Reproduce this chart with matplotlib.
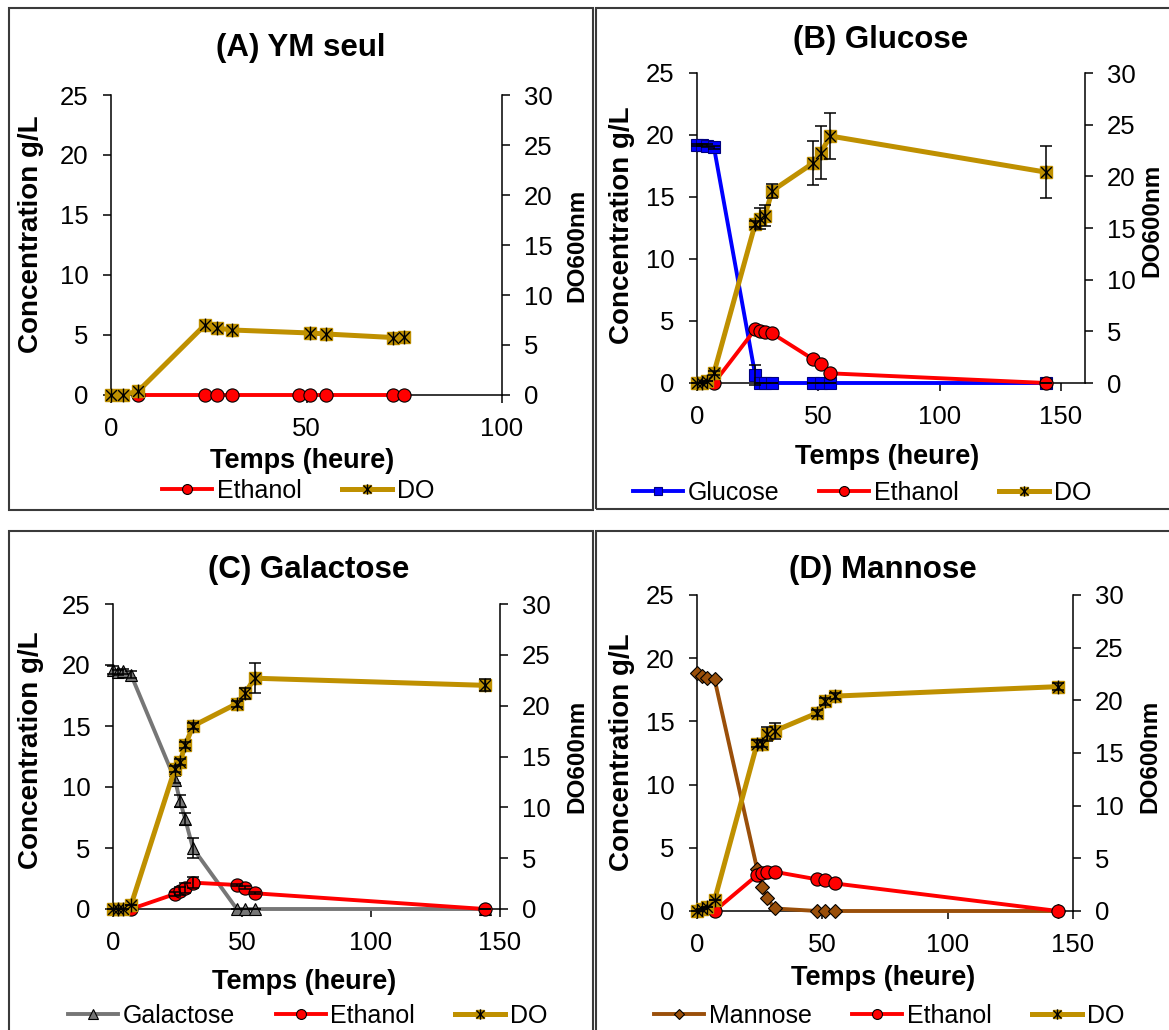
import matplotlib
matplotlib.use('Agg')
import matplotlib.pyplot as plt
from matplotlib.path import Path
from matplotlib.patches import Rectangle

plt.rcParams['font.family'] = ['Liberation Sans', 'DejaVu Sans']

W, H = 1169, 1030

GOLD = '#BF9000'
RED = '#FF0000'
BLUE = '#0000FF'
GREY = '#767676'
BROWN = '#9A4F0A'

# (A) YM seul
a_do_t = [0, 3, 7, 24, 27, 31, 51, 55, 72, 75]
a_do = [0, 0, 0.4, 7.0, 6.7, 6.5, 6.2, 6.1, 5.75, 5.8]
a_eth_t = [7, 24, 27, 31, 48, 51, 55, 72, 75]
a_eth = [0, 0, 0, 0, 0, 0, 0, 0, 0]

# shared sampling times for B, C, D
t_full = [0, 2, 4, 7, 24, 26, 28, 31, 48, 51, 55, 144]
t_eth = [7, 24, 26, 28, 31, 48, 51, 55, 144]

# (B) Glucose
b_glc = [19.2, 19.2, 19.15, 19.0, 0.65, 0, 0, 0, 0, 0, 0, 0]
b_glc_err = [0.1, 0.1, 0.1, 0.1, 0.8, 0, 0, 0, 0, 0, 0, 0]
b_eth = [0, 4.33, 4.22, 4.14, 4.0, 1.9, 1.5, 0.78, 0]
b_do = [0, 0, 0.15, 1.0, 15.4, 15.9, 16.2, 18.6, 21.3, 22.3, 23.9, 20.4]
b_do_err = [0, 0, 0, 0.2, 0.3, 1.0, 1.0, 0.65, 2.1, 2.6, 2.2, 2.5]

# (C) Galactose
c_gal = [19.6, 19.4, 19.5, 19.2, 10.6, 8.85, 7.35, 4.98, 0, 0, 0, 0]
c_gal_err = [0.3, 0.2, 0.2, 0.3, 0.3, 0.5, 0.5, 0.8, 0, 0, 0, 0]
c_eth = [0, 1.23, 1.48, 1.75, 2.16, 1.97, 1.75, 1.29, 0]
c_eth_err = [0, 0.2, 0.3, 0.4, 0.45, 0.1, 0.1, 0.1, 0]
c_do = [0, 0, 0, 0.4, 13.8, 14.5, 16.1, 18.0, 20.2, 21.2, 22.7, 22.0]
c_do_err = [0, 0, 0, 0, 0.3, 0.3, 0.3, 0.3, 0.3, 0.5, 1.5, 0.6]

# (D) Mannose
d_man = [18.8, 18.6, 18.4, 18.35, 3.3, 1.9, 1.0, 0.2, 0, 0, 0, 0]
d_eth = [0, 2.84, 3.02, 3.1, 3.1, 2.5, 2.45, 2.18, 0]
d_do = [0, 0.16, 0.35, 1.04, 15.9, 15.9, 16.8, 17.1, 18.8, 19.9, 20.4, 21.3]
d_do_err = [0, 0, 0, 0, 0.3, 0.3, 0.65, 0.75, 0.3, 0.3, 0.3, 0.3]

# Excel-style "star" marker: an X plus a vertical stroke
STAR = Path([(-1, -1), (1, 1), (-1, 1), (1, -1), (0, -1.3), (0, 1.3)],
            [Path.MOVETO, Path.LINETO, Path.MOVETO, Path.LINETO, Path.MOVETO, Path.LINETO])

TICK_FS = 18.5
LABEL_FS = 20
Y2_FS = 17.5
TITLE_FS = 22.5
LEG_FS = 18


def fx(x):
    return x / W


def fy(y):
    return 1 - y / H


def add_axes_px(fig, x0, y0, x1, y1):
    ax = fig.add_axes([fx(x0), fy(y1), (x1 - x0) / W, (y1 - y0) / H])
    ax2 = ax.twinx()
    return ax, ax2


def style_axes(ax, ax2, xmax, xticks):
    ax.set_xlim(0, xmax)
    ax.set_ylim(0, 25)
    ax.set_yticks(range(0, 26, 5))
    ax.set_xticks(xticks)
    ax2.set_ylim(0, 30)
    ax2.set_yticks(range(0, 31, 5))
    for a in (ax, ax2):
        a.spines['top'].set_visible(False)
        a.patch.set_visible(False)
        for s in a.spines.values():
            s.set_linewidth(1.1)
        a.tick_params(direction='out', length=6, width=1.1, labelsize=TICK_FS, pad=10)
    ax.spines['right'].set_visible(False)
    ax2.spines['left'].set_visible(False)
    ax2.spines['bottom'].set_visible(False)


def plot_series(ax, t, y, color, marker, ms, err=None, mec='black'):
    line, = ax.plot(t, y, color=color, lw=2.8, marker=marker, ms=ms, mfc=color,
                    mec=mec, mew=0.8, clip_on=False, zorder=3)
    if err is not None:
        ax.errorbar(t, y, yerr=err, fmt='none', ecolor='black', elinewidth=1.1,
                    capsize=4, capthick=1.1, zorder=4, clip_on=False)
    return line


def plot_do(ax2, t, y, err=None):
    line, = ax2.plot(t, y, color=GOLD, lw=3.6, marker='s', ms=8.5, mfc=GOLD,
                     mec=GOLD, clip_on=False, zorder=3)
    star, = ax2.plot(t, y, ls='none', marker=STAR, ms=10, mfc='none', mec='black',
                     mew=1.0, clip_on=False, zorder=4)
    if err is not None:
        ax2.errorbar(t, y, yerr=err, fmt='none', ecolor='black', elinewidth=1.1,
                     capsize=4, capthick=1.1, zorder=5, clip_on=False)
    return (line, star)


def panel_text(fig, title, tpos, xlab, ylab, y2lab):
    fig.text(fx(tpos[0]), fy(tpos[1]), title, fontsize=TITLE_FS, fontweight='bold',
             ha='center', va='center')
    fig.text(fx(xlab[0]), fy(xlab[1]), 'Temps (heure)', fontsize=LABEL_FS - 0.5,
             fontweight='bold', ha='center', va='center')
    fig.text(fx(ylab[0]), fy(ylab[1]), 'Concentration g/L', fontsize=LABEL_FS,
             fontweight='bold', ha='center', va='center', rotation=90)
    fig.text(fx(y2lab[0]), fy(y2lab[1]), 'DO600nm', fontsize=Y2_FS,
             fontweight='bold', ha='center', va='center', rotation=90)


def panel_legend(fig, handles, labels, pos):
    fig.legend(handles, labels, loc='center', bbox_to_anchor=(fx(pos[0]), fy(pos[1])),
               ncol=len(handles), frameon=False, fontsize=LEG_FS, handlelength=2.0,
               handletextpad=0.2, columnspacing=1.6, markerscale=0.75,
               borderaxespad=0, borderpad=0)


fig = plt.figure(figsize=(W / 100, H / 100), dpi=100)

# panel frames
for (x0, y0, x1, y1) in [(9, 8, 593, 510), (596, 8, 1175, 509),
                         (9, 531, 593, 1040), (596, 531, 1175, 1040)]:
    fig.patches.append(Rectangle((fx(x0), fy(y1)), (x1 - x0) / W, (y1 - y0) / H,
                                 transform=fig.transFigure, fill=False,
                                 edgecolor='#3a3a3a', lw=1.5))

# (A)
ax, ax2 = add_axes_px(fig, 111, 95, 502, 395)
style_axes(ax, ax2, 100, [0, 50, 100])
h_eth = plot_series(ax, a_eth_t, a_eth, RED, 'o', 9.5)
h_do = plot_do(ax2, a_do_t, a_do)
panel_text(fig, '(A) YM seul', (301, 48), (302, 461), (31, 234), (577, 245))
panel_legend(fig, [h_eth, h_do], ['Ethanol', 'DO'], (298, 491))

# (B)
ax, ax2 = add_axes_px(fig, 697, 73, 1085, 383)
style_axes(ax, ax2, 160, [0, 50, 100, 150])
h_glc = plot_series(ax, t_full, b_glc, BLUE, 's', 8, b_glc_err, mec='#00007F')
h_eth = plot_series(ax, t_eth, b_eth, RED, 'o', 9.5)
h_do = plot_do(ax2, t_full, b_do, b_do_err)
panel_text(fig, '(B) Glucose', (881, 40), (887, 457), (622, 225), (1152, 220))
panel_legend(fig, [h_glc, h_eth, h_do], ['Glucose', 'Ethanol', 'DO'], (862, 493))

# (C)
ax, ax2 = add_axes_px(fig, 113, 604, 500, 909)
style_axes(ax, ax2, 150, [0, 50, 100, 150])
h_gal = plot_series(ax, t_full, c_gal, GREY, '^', 9, c_gal_err)
h_eth = plot_series(ax, t_eth, c_eth, RED, 'o', 9.5, c_eth_err)
h_do = plot_do(ax2, t_full, c_do, c_do_err)
panel_text(fig, '(C) Galactose', (309, 570), (304, 982), (31, 750), (577, 756))
panel_legend(fig, [h_gal, h_eth, h_do], ['Galactose', 'Ethanol', 'DO'], (308, 1016))

# (D)
ax, ax2 = add_axes_px(fig, 697, 595, 1073, 911)
style_axes(ax, ax2, 150, [0, 50, 100, 150])
h_man = plot_series(ax, t_full, d_man, BROWN, 'D', 7)
h_eth = plot_series(ax, t_eth, d_eth, RED, 'o', 9.5)
h_do = plot_do(ax2, t_full, d_do, d_do_err)
panel_text(fig, '(D) Mannose', (883, 570), (883, 978), (622, 752), (1150, 756))
panel_legend(fig, [h_man, h_eth, h_do], ['Mannose', 'Ethanol', 'DO'], (889, 1016))

fig.savefig('out.png', dpi=100)
